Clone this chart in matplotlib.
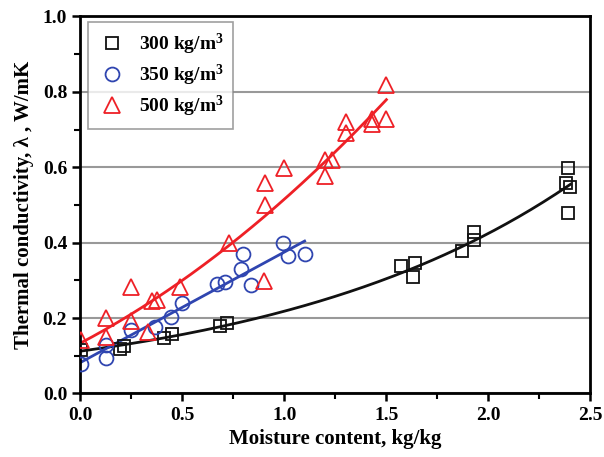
import numpy as np
import matplotlib
matplotlib.use("Agg")
import matplotlib.pyplot as plt
from matplotlib.ticker import MultipleLocator

plt.rcParams['font.family'] = ['Liberation Serif', 'DejaVu Serif']
plt.rcParams['font.weight'] = 'bold'
plt.rcParams['mathtext.fontset'] = 'custom'
plt.rcParams['mathtext.rm'] = 'Liberation Serif:bold'
plt.rcParams['mathtext.default'] = 'rm'

# 300 kg/m3
x300 = [0.004, 0.195, 0.212, 0.408, 0.449, 0.684, 0.717, 1.571, 1.641, 1.631,
        1.872, 1.932, 1.932, 2.391, 2.383, 2.403, 2.391]
y300 = [0.115, 0.118, 0.127, 0.146, 0.157, 0.178, 0.187, 0.338, 0.347, 0.308,
        0.378, 0.428, 0.407, 0.598, 0.559, 0.548, 0.479]
# 350 kg/m3
x350 = [0.004, 0.126, 0.126, 0.249, 0.364, 0.445, 0.498, 0.671, 0.708, 0.790,
        0.798, 0.839, 0.995, 1.019, 1.100]
y350 = [0.078, 0.093, 0.128, 0.168, 0.177, 0.203, 0.239, 0.290, 0.296, 0.329,
        0.369, 0.287, 0.398, 0.364, 0.369]
# 500 kg/m3
x500 = [0.004, 0.126, 0.126, 0.249, 0.249, 0.331, 0.350, 0.375, 0.489, 0.729,
        0.900, 0.904, 0.904, 0.999, 1.199, 1.234, 1.199, 1.301, 1.301, 1.432,
        1.432, 1.501, 1.501]
y500 = [0.141, 0.199, 0.150, 0.283, 0.193, 0.163, 0.246, 0.249, 0.283, 0.400,
        0.299, 0.499, 0.559, 0.599, 0.619, 0.619, 0.577, 0.720, 0.690, 0.729,
        0.716, 0.729, 0.818]

labels = ["300 kg/m$^3$", "350 kg/m$^3$", "500 kg/m$^3$"]
colors = ["#111111", "#2f45b0", "#ee2026"]
fit_kinds = ["exp", "lin", "quad"]

fig = plt.figure(figsize=(6.04, 4.57), dpi=100)
ax = fig.add_axes([0.133, 0.139, 0.844, 0.825])

series = [(x300, y300, 's', 9), (x350, y350, 'o', 10), (x500, y500, '^', 11)]
for (xs, ys, m, ms), lab, c, kind in zip(series, labels, colors, fit_kinds):
    xs = np.array(xs); ys = np.array(ys)
    ax.plot(xs, ys, linestyle='none', marker=m, markersize=ms,
            markerfacecolor='none', markeredgecolor=c, markeredgewidth=1.3,
            label=lab, zorder=3)
    xf = np.linspace(0, xs.max(), 200)
    if kind == "exp":
        b, la = np.polyfit(xs, np.log(ys), 1)
        yf = np.exp(la) * np.exp(b * xf)
    elif kind == "lin":
        yf = np.polyval(np.polyfit(xs, ys, 1), xf)
    else:
        yf = np.polyval(np.polyfit(xs, ys, 2), xf)
    ax.plot(xf, yf, color=c, linewidth=2, zorder=2)

ax.set_xlim(0, 2.5)
ax.set_ylim(0, 1.0)
ax.xaxis.set_major_locator(MultipleLocator(0.5))
ax.xaxis.set_minor_locator(MultipleLocator(0.25))
ax.yaxis.set_major_locator(MultipleLocator(0.2))
ax.yaxis.set_minor_locator(MultipleLocator(0.1))
ax.xaxis.set_major_formatter(matplotlib.ticker.FormatStrFormatter('%.1f'))
ax.yaxis.set_major_formatter(matplotlib.ticker.FormatStrFormatter('%.1f'))
ax.tick_params(which='major', direction='out', length=6, width=1.8, labelsize=14)
ax.tick_params(which='minor', direction='out', length=4, width=1.5)
ax.grid(axis='y', which='major', color='#999999', linewidth=1.5, zorder=0)
ax.set_axisbelow(True)
for s in ax.spines.values():
    s.set_linewidth(2)

ax.set_xlabel("Moisture content, kg/kg", fontsize=15, fontweight='bold', labelpad=4)
ax.set_ylabel("Thermal conductivity, λ , W/mK", fontsize=15, fontweight='bold', labelpad=6)

leg = ax.legend(loc='upper left', bbox_to_anchor=(0.015, 0.985), borderaxespad=0,
                fontsize=14, frameon=True, fancybox=False, edgecolor='#888888',
                handletextpad=0.6, borderpad=0.5, labelspacing=0.3,
                handlelength=1.5)
leg.get_frame().set_linewidth(1.2)

fig.savefig("out.png", dpi=100)
